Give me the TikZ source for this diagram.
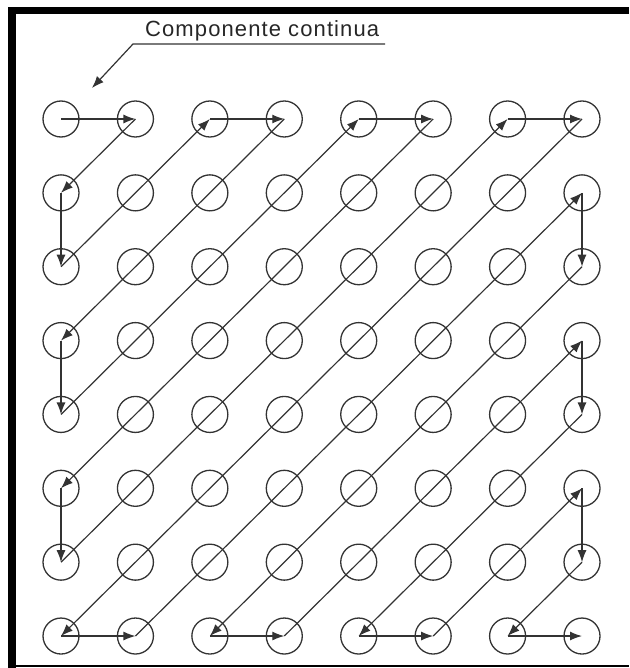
\documentclass[tikz,border=0pt]{standalone}
\usepackage{fontspec}
\newfontfamily\labfont[LetterSpace=5]{Liberation Sans}
\usetikzlibrary{arrows.meta}
\tikzset{
  cell/.style={circle, draw=black!80, line width=1.3pt, minimum size=36pt, inner sep=0pt},
  conn/.style={draw=black!80, line width=1.2pt, -{Latex[length=12pt,width=9pt]}},
  frame/.style={fill=black, draw=none},
  labeltext/.style={font=\labfont\fontsize{22pt}{24pt}\selectfont, text=black!85, inner sep=0pt, anchor=base west}
}
\begin{document}
\begin{tikzpicture}[x=1pt,y=-1pt]
\useasboundingbox (0,0) rectangle (629,668);
% frame
\fill[frame] (8,7) rectangle (629,14.5);
\fill[frame] (8,7) rectangle (16,668);
\fill[frame] (8,664.5) rectangle (629,667);
% circles
\foreach \i in {0,...,7} {
  \foreach \j in {0,...,7} {
    \node[cell] (c\i\j) at ({61+74.43*\i},{119+73.86*\j}) {};
  }
}
% zigzag path
\foreach \a/\b in {00/10, 10/01, 01/02, 02/20, 20/30, 30/03, 03/04, 04/40, 40/50, 50/05, 05/06, 06/60, 60/70, 70/07, 07/17, 17/71, 71/72, 72/27, 27/37, 37/73, 73/74, 74/47, 47/57, 57/75, 75/76, 76/67, 67/77}
  \draw[conn] (c\a.center) -- (c\b.center);
% label
\node[labeltext] (lab) at (145,37) {Componente continua};
\coordinate (ue) at (385,44);
\coordinate (ul) at (133,44);
\coordinate (lt) at (92,88);
\draw[conn] (ue) -- (ul) -- (lt);
\end{tikzpicture}
\end{document}
